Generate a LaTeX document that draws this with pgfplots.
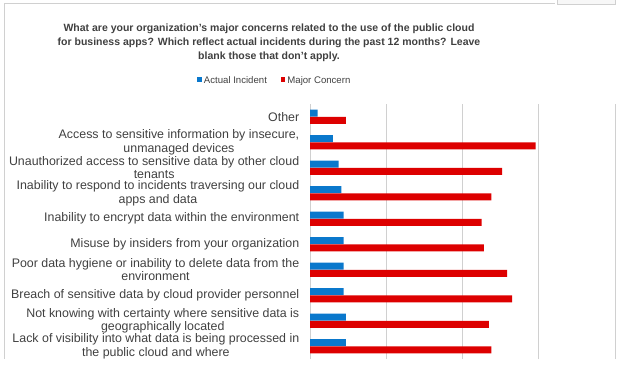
\documentclass[border=0pt]{standalone}
\usepackage{pgfplots}
\pgfplotsset{compat=1.18}
\usepackage{fontspec}
\setmainfont{Liberation Sans}
\definecolor{txt}{HTML}{404040}
\definecolor{barblue}{HTML}{0A78CC}
\definecolor{barred}{HTML}{DD0000}
\definecolor{gridc}{HTML}{D0D0D0}
\begin{document}
\begin{tikzpicture}
\path[use as bounding box] (0,0) rectangle (633bp,367bp);
\draw[gridc, line width=0.8bp] (4bp,8bp) -- (4bp,364bp) -- (555bp,364bp);
\draw[gridc, line width=0.8bp, fill=gray!6] (557bp,367.5bp) -- (557bp,363bp) -- (615bp,363bp) -- (615bp,367.5bp);
\begin{axis}[
  at={(310bp,8bp)}, anchor=south west,
  scale only axis, width=305bp, height=255bp,
  xbar, bar width=7bp,
  xmin=0, xmax=80, ymin=-0.5, ymax=9.5,
  xtick={20,40,60,80}, xticklabels={},
  xmajorgrids, major grid style={gridc, line width=1bp},
  axis lines*=left,
  x axis line style={draw=none},
  y axis line style={gridc, line width=0.8bp},
  major x tick style={draw=none},
  ytick={0,...,9},
  major y tick style={draw=none},
  extra y ticks={-0.5,0.5,...,9.5},
  extra y tick labels={},
  extra y tick style={tick style={gridc, line width=0.8bp}, major tick length=3bp, tick align=outside, ymajorgrids=false},
  yticklabels={
    {Lack of visibility into what data is being processed in\\the public cloud and where},
    {Not knowing with certainty where sensitive data is\\geographically located},
    {Breach of sensitive data by cloud provider personnel},
    {Poor data hygiene or inability to delete data from the\\environment},
    {Misuse by insiders from your organization},
    {Inability to encrypt data within the environment},
    {Inability to respond to incidents traversing our cloud\\apps and data},
    {Unauthorized access to sensitive data by other cloud\\tenants},
    {Access to sensitive information by insecure,\\unmanaged devices},
    {Other}},
  yticklabel style={align=center, font=\fontsize{12.4bp}{13.2bp}\selectfont, text=txt, xshift=-3bp},
  legend columns=2,
  legend style={at={(axis description cs:-0.115,1.09)}, anchor=center, draw=none, fill=none,
    font=\fontsize{9.6bp}{11bp}\selectfont, text=txt,
    /tikz/every even column/.append style={column sep=12bp}},
  legend image code/.code={\fill[#1] (0bp,-0.5bp) rectangle (4.5bp,4bp);},
]
\addplot[fill=barblue, draw=none, bar shift=3.7bp] coordinates {
 (9.4,0) (9.4,1) (8.8,2) (8.8,3) (8.8,4) (8.8,5) (8.2,6) (7.5,7) (6.0,8) (2.0,9)};
\addlegendentry{Actual Incident}
\addplot[fill=barred, draw=none, bar shift=-3.7bp] coordinates {
 (47.6,0) (46.9,1) (53.0,2) (51.7,3) (45.6,4) (45.0,5) (47.6,6) (50.4,7) (59.2,8) (9.4,9)};
\addlegendentry{Major Concern}
\end{axis}
\node[align=center, font=\bfseries\fontsize{10.5bp}{14bp}\selectfont, text=txt] at (269bp,324bp)
 {What are your organization’s major concerns related to the use of the public cloud\\
  for business apps? Which reflect actual incidents during the past 12 months? Leave\\
  blank those that don’t apply.};
\end{tikzpicture}
\end{document}
